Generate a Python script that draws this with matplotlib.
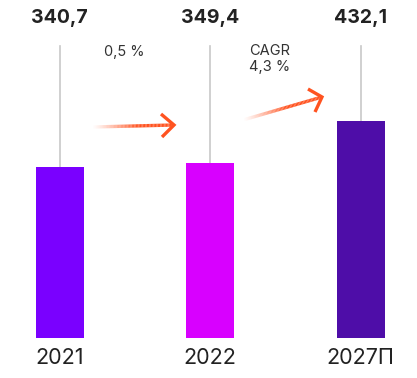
import numpy as np
import matplotlib
matplotlib.use("Agg")
import matplotlib.pyplot as plt
from matplotlib.colors import to_rgba

plt.rcParams['font.family'] = ['Inter', 'DejaVu Sans']

years = ["2021", "2022", "2027П"]
values = [340.7, 349.4, 432.1]
value_labels = ["340,7", "349,4", "432,1"]
bar_colors = ["#7A00FF", "#D800FF", "#4E0DA8"]
growth_notes = ["0,5 %", "CAGR\n4,3 %"]

W, H = 417, 378
fig = plt.figure(figsize=(W / 100, H / 100), dpi=100)

# main axes: baseline at 338 px from top, 0.502 px per unit
base_px = 338
scale = 0.502
ax = fig.add_axes([0, (H - base_px) / H, 1, base_px / H])
ax.set_ylim(0, base_px / scale)
spacing = 150.5
x0 = 59.5
ax.set_xlim(-x0 / spacing, (W - x0) / spacing)
ax.axis("off")

xs = np.arange(len(values))
ax.bar(xs, values, width=48 / spacing, color=bar_colors, zorder=2)

line_top = (base_px - 46) / scale
label_y = (base_px - 18) / scale
for x, v, lab in zip(xs, values, value_labels):
    ax.plot([x, x], [v, line_top], color="#c8c8c8", lw=1.2, zorder=1)
    ax.text(x, label_y, lab, ha="center", va="center", fontsize=14,
            fontweight="bold", color="#222222")

# category labels below bars
for x, yr in zip(xs, years):
    ax.text(x, -(358 - base_px) / scale, yr, ha="center", va="center",
            fontsize=15.5, color="#222222", clip_on=False)

# overlay in pixel coordinates for growth arrows and notes
ov = fig.add_axes([0, 0, 1, 1], facecolor="none")
ov.set_xlim(0, W)
ov.set_ylim(H, 0)
ov.axis("off")

orange = "#FF5320"


def grad_arrow(tail, tip, arm1, arm2):
    n = 60
    xs_ = np.linspace(tail[0], tip[0], n + 1)
    ys_ = np.linspace(tail[1], tip[1], n + 1)
    for i in range(n):
        a = min(1.0, (i / n) / 0.55) ** 1.2
        ov.plot(xs_[i:i + 2], ys_[i:i + 2], color=to_rgba(orange, a),
                lw=2.4, solid_capstyle="butt")
    ov.plot([arm1[0], tip[0], arm2[0]], [arm1[1], tip[1], arm2[1]],
            color=orange, lw=2.4, solid_joinstyle="miter", solid_capstyle="butt")


grad_arrow((92, 127), (174, 125), (161, 114), (162, 137))
grad_arrow((243, 120), (322, 97), (308, 89), (315, 112))

ov.text(104, 52, growth_notes[0], ha="left", va="center", fontsize=10.5,
        color="#333333")
ov.text(249, 59, growth_notes[1], ha="left", va="center", fontsize=10.5,
        color="#333333", linespacing=1.2)

fig.savefig("out.png", dpi=100)
